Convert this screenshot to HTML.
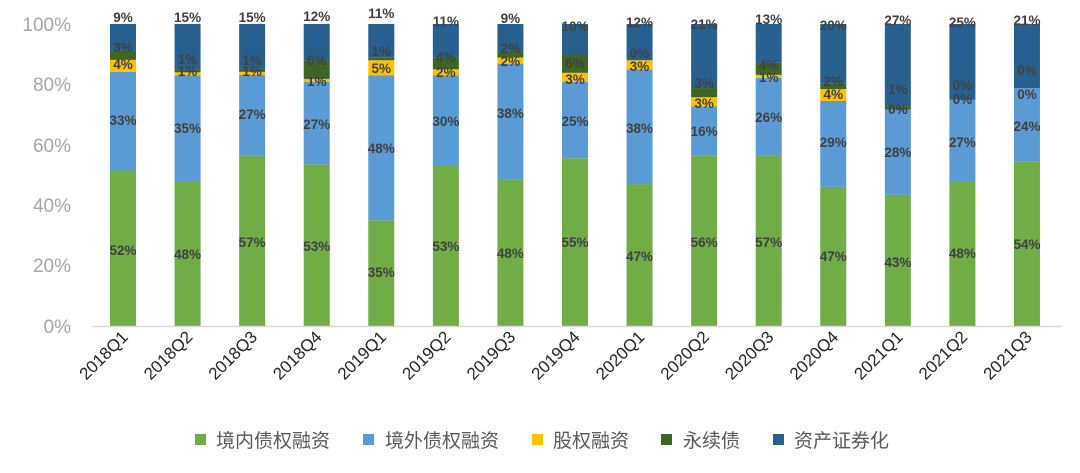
<!DOCTYPE html>
<html><head><meta charset="utf-8"><style>
html,body{margin:0;padding:0;background:#fff;}
svg{display:block;font-family:"Liberation Sans","Noto Sans CJK SC",sans-serif;}
</style></head><body>
<svg id="c" width="1080" height="473" viewBox="0 0 1080 473" xmlns="http://www.w3.org/2000/svg">
<g font-size="19" fill="#a6a6a6" text-anchor="end">
<text x="71" y="333">0%</text>
<text x="71" y="272">20%</text>
<text x="71" y="212">40%</text>
<text x="71" y="152">60%</text>
<text x="71" y="91">80%</text>
<text x="71" y="31">100%</text>
</g>
<g id="bars"></g>
<line x1="92" y1="326.5" x2="1062" y2="326.5" stroke="#d9d9d9" stroke-width="1.5"/>
<g id="labs" font-size="13.5" font-weight="bold" fill="#404040" text-anchor="middle"></g>
<g id="xl" font-size="17" fill="#262626" text-anchor="end"></g>
<g font-size="19" fill="#595959">
<rect x="195" y="434" width="11" height="11" fill="#70ad47"/><text x="216" y="447">境内债权融资</text>
<rect x="363" y="434" width="11" height="11" fill="#5b9bd5"/><text x="385" y="447">境外债权融资</text>
<rect x="532" y="434" width="11" height="11" fill="#ffc000"/><text x="553" y="447">股权融资</text>
<rect x="661" y="434" width="11" height="11" fill="#3f6525"/><text x="683" y="447">永续债</text>
<rect x="773" y="434" width="11" height="11" fill="#27608f"/><text x="794" y="447">资产证券化</text>
</g>
</svg>
<script>
var D=[[52,33,4,3,9],[48,35,1,1,15],[57,27,1,1,15],[53,27,1,6,12],[35,48,5,1,11],[53,30,2,4,11],[48,38,2,2,9],[55,25,3,6,10],[47,38,3,0,12],[56,16,3,3,21],[57,26,1,4,13],[47,29,4,2,20],[43,28,0,1,27],[48,27,0,0,25],[54,24,0,0,21]];
var LY=[[250,120,64,47,17],[254,128,71,59,17],[242,114,71,60,17],[246,124,81,60,16],[272,148,68,51,13],[246,121,72,57,21],[253,113,61,48,18],[242,121,79,63,26],[256,128,66,53,22],[242,131,103,83,24],[242,117,77,65,19],[256,142,94,81,25],[262,152,109,89,20],[253,142,99,85,22],[244,126,94,70,20]];
var N=["2018Q1","2018Q2","2018Q3","2018Q4","2019Q1","2019Q2","2019Q3","2019Q4","2020Q1","2020Q2","2020Q3","2020Q4","2021Q1","2021Q2","2021Q3"];
var C=["#70ad47","#5b9bd5","#ffc000","#3f6525","#27608f"];
var b="",l="",x="";
for(var i=0;i<15;i++){
 var cx=123+i*64.57, s=D[i].reduce(function(a,c){return a+c},0), y=326;
 for(var k=0;k<5;k++){
  var h=(k==4)?(y-24):D[i][k]/s*302;
  b+='<rect x="'+(cx-13)+'" y="'+(y-h)+'" width="26" height="'+h+'" fill="'+C[k]+'"/>';
  y-=h;
  l+='<text x="'+cx+'" y="'+(LY[i][k]+5)+'">'+D[i][k]+'%</text>';
 }
 x+='<text transform="translate('+(cx+6)+',338) rotate(-45)">'+N[i]+'</text>';
}
document.getElementById("bars").innerHTML=b;
document.getElementById("labs").innerHTML=l;
document.getElementById("xl").innerHTML=x;
</script>
</body></html>
